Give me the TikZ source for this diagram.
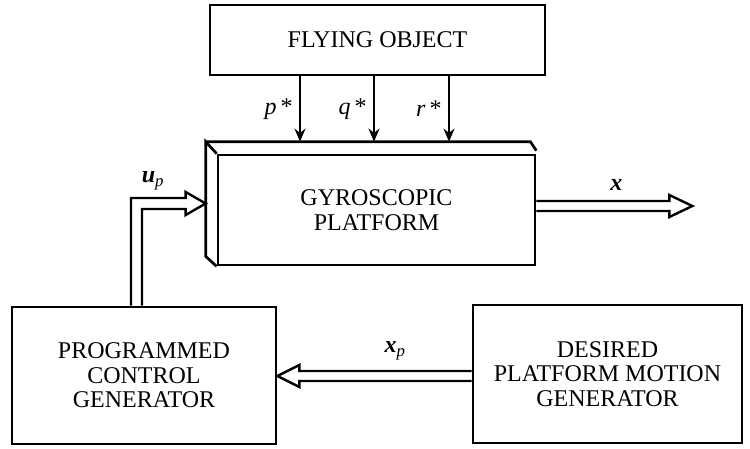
\documentclass[tikz,border=0pt]{standalone}
\usepackage{fontspec}
\setmainfont{Liberation Serif}
\usetikzlibrary{calc,arrows.meta}
\begin{document}
\begin{tikzpicture}[x=1pt,y=-1pt,line width=2.7pt,
  every node/.style={font=\fontsize{24}{24.5}\selectfont},
  block/.style={draw,line width=2.7pt,inner sep=0pt,align=center},
  sig/.style={-{Stealth[length=13pt,width=11pt]},line width=2.2pt},
  hollow/.style={line width=2.4pt,line join=miter}]
\useasboundingbox (0,0) rectangle (750,448);
% blocks
\node[block,minimum width=335pt,minimum height=70pt] (fly) at (377.5,40) {FLYING OBJECT};
\node[block,minimum width=317pt,minimum height=110pt] (gyro) at (376.5,210) {GYROSCOPIC\\PLATFORM};
\node[block,minimum width=264pt,minimum height=137pt] (pcg) at (144,375.5) {PROGRAMMED\\CONTROL\\GENERATOR};
\node[block,minimum width=269pt,minimum height=138pt] (dpm) at (607.5,374) {DESIRED\\PLATFORM MOTION\\GENERATOR};
% depth of the platform block
\coordinate (gb) at ($(gyro.north west)+(-11,-12)$);
\draw[line join=miter] (gyro.north west) -- (gb) -- ($(gyro.south west)+(-11,-10)$) -- (gyro.south west);
\draw[line join=miter] (gb) -- ($(gyro.north east)+(-6,-12)$) -- ($(gyro.north east)+(0,-3)$);
% angular rates
\foreach \xx/\lab in {300/p,374/q,449/r}
  \draw[sig] (fly.south -| \xx,0) -- (gb -| \xx,0) node[midway,left=3pt] {\textit{\lab}\,*};
% output x
\coordinate (xo) at ($(gyro.east)+(156,-4)$);
\draw[hollow] ($(gyro.east)+(0,-9)$) -- ($(xo)+(-23,-5)$) -- ($(xo)+(-23,-11)$) -- (xo)
  -- ($(xo)+(-23,11)$) -- ($(xo)+(-23,5)$) -- ($(gyro.east)+(0,1)$);
\node at ($(xo)+(-76,-21)$) {\textbf{\textit{x}}};
% control u_p
\coordinate (ui) at (gb |- 0,203.5);
\draw[hollow] (pcg.north -| 131,0) -- (131,198) -- ($(ui)+(-20,-5.5)$) -- ($(ui)+(-20,-11.5)$) -- (ui)
  -- ($(ui)+(-20,11.5)$) -- ($(ui)+(-20,5.5)$) -- (142,209) -- (pcg.north -| 142,0);
\node at (153,181) {\textbf{\textit{u}}\textsubscript{\textit{p}}};
% desired motion x_p
\coordinate (xi) at (pcg.east |- 0,376);
\draw[hollow] (dpm.west |- 0,371) -- ($(xi)+(22,-5)$) -- ($(xi)+(22,-11)$) -- (xi)
  -- ($(xi)+(22,11)$) -- ($(xi)+(22,5)$) -- (dpm.west |- 0,381);
\node at (395,351) {\textbf{\textit{x}}\textsubscript{\textit{p}}};
\end{tikzpicture}
\end{document}
